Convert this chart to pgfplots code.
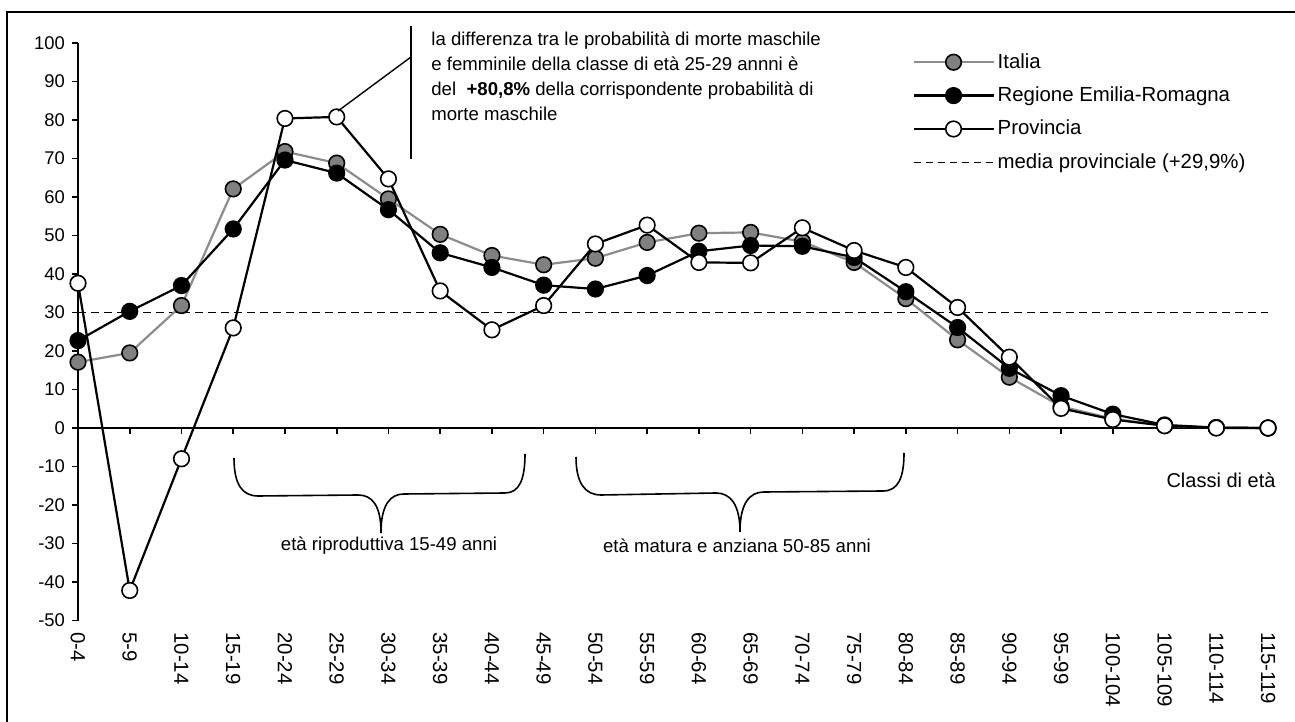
\documentclass[border=0pt]{standalone}
\usepackage{fontspec}
\setmainfont{Liberation Sans}
\usepackage{pgfplots}
\pgfplotsset{compat=1.18}

% classi di eta: 0 = 0-4, 1 = 5-9, ..., 23 = 115-119
\pgfplotstableread{
x italia regione provincia
0  17.1 22.7  37.6
1  19.5 30.3 -42.2
2  31.8 37.0  -8.0
3  62.1 51.7  26.0
4  71.8 69.6  80.4
5  68.8 66.2  80.8
6  59.5 56.7  64.7
7  50.3 45.5  35.6
8  44.8 41.7  25.5
9  42.4 37.1  31.8
10 44.1 36.1  47.8
11 48.2 39.6  52.7
12 50.6 45.9  43.0
13 50.8 47.4  42.9
14 48.4 47.2  52.0
15 43.0 44.3  46.1
16 33.6 35.4  41.7
17 22.9 26.1  31.3
18 13.2 15.5  18.4
19  5.6  8.4   5.1
20  2.4  3.6   2.2
21  0.6  0.8   0.6
22  0.1  0.1   0.0
23  0.0  0.0   0.0
}\dati

\begin{document}
\begin{tikzpicture}
\begin{axis}[
    x=25.87pt, y=1.925pt,
    xmin=0, xmax=23, ymin=-50, ymax=100,
    axis y line=left, axis x line=middle,
    axis line style={-, line width=0.9pt},
    hide obscured x ticks=false, hide obscured y ticks=false,
    clip=false,
    ytick={-50,-40,...,100},
    xtick={0,...,23},
    xticklabels={0-4,5-9,10-14,15-19,20-24,25-29,30-34,35-39,40-44,45-49,50-54,55-59,60-64,65-69,70-74,75-79,80-84,85-89,90-94,95-99,100-104,105-109,110-114,115-119},
    tick align=outside,
    major tick length=3pt,
    tick style={black, line width=0.8pt},
    /pgf/number format/assume math mode=true,
    yticklabel style={font=\fontsize{9.2}{11}\selectfont},
    xticklabel style={font=\fontsize{10.2}{12}\selectfont, yshift=-99pt, rotate=-90, anchor=west, inner sep=0pt},
    legend style={at={(axis cs:16.12,98.2)}, anchor=north west, draw=none, fill=none,
        font=\fontsize{10.2}{12}\selectfont, row sep=4.8pt, inner sep=0pt,
        nodes={inner sep=1.5pt}},
    legend cell align=left,
    legend image code/.code={\draw[mark repeat=2,mark phase=2,#1] plot coordinates {(0pt,0pt) (20pt,0pt) (40pt,0pt)};},
]
\addplot[forget plot, black, line width=0.5pt, dash pattern=on 4pt off 2.5pt] coordinates {(0,29.9) (23,29.9)};

\addplot[color=gray!90, line width=1.1pt, mark=*, mark size=3.9pt,
    mark options={draw=black, fill=gray, line width=0.8pt}] table[x=x, y=italia] {\dati};
\addlegendentry{Italia}

\addplot[color=black, line width=1.1pt, mark=*, mark size=3.9pt,
    mark options={draw=black, fill=black, line width=0.8pt}] table[x=x, y=regione] {\dati};
\addlegendentry{Regione Emilia-Romagna}

\addplot[color=black, line width=1.1pt, mark=*, mark size=3.9pt,
    mark options={draw=black, fill=white, line width=0.8pt}] table[x=x, y=provincia] {\dati};
\addlegendentry{Provincia}

\addlegendimage{black, line width=0.5pt, dash pattern=on 3.5pt off 2.5pt}
\addlegendentry{media provinciale (+29,9\%)}

\coordinate (P0) at (axis cs:-1.50754,111.1688);
\end{axis}

% annotazioni in coordinate pixel (1 px = 0.5 pt)
\begin{scope}[shift={(P0)}, x=0.5pt, y=-0.5pt]
\draw[line width=1pt] (7,730) -- (7,12) -- (1300,12);

\draw[line width=0.8pt] (411,26) -- (411,159);
\draw[line width=0.7pt] (411,57) -- (338,111);
\node[anchor=north west, inner sep=0pt, align=left, font=\fontsize{9.3}{12.5}\selectfont] at (431,31)
  {la differenza tra le probabilità di morte maschile\\
   e femminile della classe di età 25-29 annni è\\
   del\ \ \textbf{+80,8\%} della corrispondente probabilità di\\
   morte maschile};

\draw[line width=0.8pt] (234,458) .. controls (234,484) and (242,496) .. (258,496) -- (358,495)
  .. controls (372,495) and (381,505) .. (381,533)
  .. controls (381,505) and (390,494) .. (404,494) -- (505,493)
  .. controls (519,493) and (525,480) .. (525,454);
\draw[line width=0.8pt] (576,457) .. controls (576,483) and (585,495) .. (601,495) -- (716,493)
  .. controls (730,493) and (740,504) .. (740,532)
  .. controls (740,504) and (749,492) .. (764,492) -- (883,491)
  .. controls (898,491) and (904,478) .. (904,453);

\node[font=\fontsize{9.3}{11}\selectfont] at (389,546) {età riproduttiva 15-49 anni};
\node[font=\fontsize{9.3}{11}\selectfont] at (737,546) {età matura e anziana 50-85 anni};
\node[font=\fontsize{10}{12}\selectfont] at (1221,480) {Classi di età};

\pgfresetboundingbox
\path[use as bounding box] (0,0) rectangle (1295,722);
\end{scope}
\end{tikzpicture}
\end{document}
